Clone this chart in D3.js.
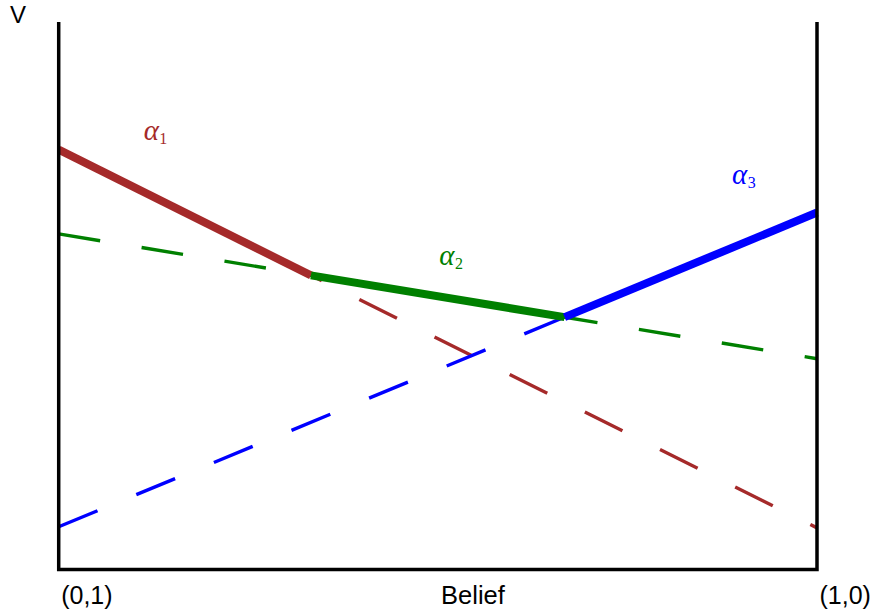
<!DOCTYPE html>
<html>
<head>
<meta charset="utf-8">
<script src="https://cdn.jsdelivr.net/npm/d3@7"></script>
<style>
  html, body { margin: 0; padding: 0; background: #fff; }
  svg { display: block; }
</style>
</head>
<body>
<div id="chart"></div>
<script>
// ---- data ----
const beliefs = [0, 1];                    // belief state endpoints
const seriesNames = ["α1", "α2", "α3"];
const alpha1 = [7.67, 0.76];               // value at belief 0 and 1
const alpha2 = [6.13, 3.85];
const alpha3 = [0.78, 6.52];
const seriesColors = ["#a52a2a", "#008000", "#0000ff"];
const tickValues = [0, 1];
const tickLabels = ["(0,1)", "(1,0)"];
const labelBelief = [0.112, 0.502, 0.888];  // label anchor (belief)
const labelValue = [7.85, 5.56, 7.05];      // label anchor (value)

const W = 874, H = 616;
const svg = d3.select("#chart").append("svg").attr("width", W).attr("height", H);

const x = d3.scaleLinear().domain([0, 1]).range([58.7, 817]);
const y = d3.scaleLinear().domain([0, 10]).range([569.5, 22]);

const series = [alpha1, alpha2, alpha3].map((v, i) => ({
  name: seriesNames[i], color: seriesColors[i],
  pts: beliefs.map((b, j) => ({ b, v: v[j] }))
}));

const line = d3.line().x(d => x(d.b)).y(d => y(d.v));

// dashed full lines
svg.append("g").selectAll("path").data(series).join("path")
  .attr("d", d => line(d.pts))
  .attr("fill", "none").attr("stroke", d => d.color)
  .attr("stroke-width", 3.4).attr("stroke-dasharray", "42,42");

// upper envelope (computed from the data)
function valAt(s, b) { return s.pts[0].v + (s.pts[1].v - s.pts[0].v) * b; }
function cross(a, c) {
  const da = a.pts[1].v - a.pts[0].v, dc = c.pts[1].v - c.pts[0].v;
  return (c.pts[0].v - a.pts[0].v) / (da - dc);
}
const b12 = cross(series[0], series[1]);
const b23 = cross(series[1], series[2]);
const segs = [[0, b12], [b12, b23], [b23, 1]];
svg.append("g").selectAll("path").data(series).join("path")
  .attr("d", (d, i) => line(segs[i].map(b => ({ b, v: valAt(d, b) }))))
  .attr("fill", "none").attr("stroke", d => d.color)
  .attr("stroke-width", 8);

// frame
svg.append("path")
  .attr("d", `M${x(0)},${y(10)}V${y(0)}H${x(1)}V${y(10)}`)
  .attr("fill", "none").attr("stroke", "#000").attr("stroke-width", 3.5)
  .attr("stroke-linejoin", "miter");

// bottom axis tick labels
const axis = d3.axisBottom(x).tickValues(tickValues)
  .tickFormat((d, i) => tickLabels[i]).tickSize(0).tickPadding(0);
const gx = svg.append("g").attr("transform", `translate(0,${y(0)})`).call(axis);
gx.select(".domain").remove();
gx.selectAll("text")
  .attr("text-anchor", "start").attr("dx", 2).attr("dy", 0).attr("y", 34.5)
  .attr("font-family", "'Liberation Sans', Arial, sans-serif")
  .attr("font-size", 25).attr("fill", "#000");

svg.append("text").attr("x", 473).attr("y", 604).attr("text-anchor", "middle")
  .attr("font-family", "'Liberation Sans', Arial, sans-serif").attr("font-size", 25.5)
  .text("Belief");
svg.append("text").attr("x", 10).attr("y", 23)
  .attr("font-family", "'Liberation Sans', Arial, sans-serif").attr("font-size", 24)
  .text("V");

// series labels
const lab = svg.append("g").selectAll("text").data(series).join("text")
  .attr("x", (d, i) => x(labelBelief[i])).attr("y", (d, i) => y(labelValue[i]))
  .attr("fill", d => d.color)
  .attr("font-family", "'Liberation Serif', 'DejaVu Serif', serif");
lab.append("tspan").attr("font-style", "italic").attr("font-size", 29).text("α");
lab.append("tspan").attr("font-size", 16).attr("dy", 4).attr("dx", 0.5).text((d, i) => d.name.slice(1));
</script>
</body>
</html>
